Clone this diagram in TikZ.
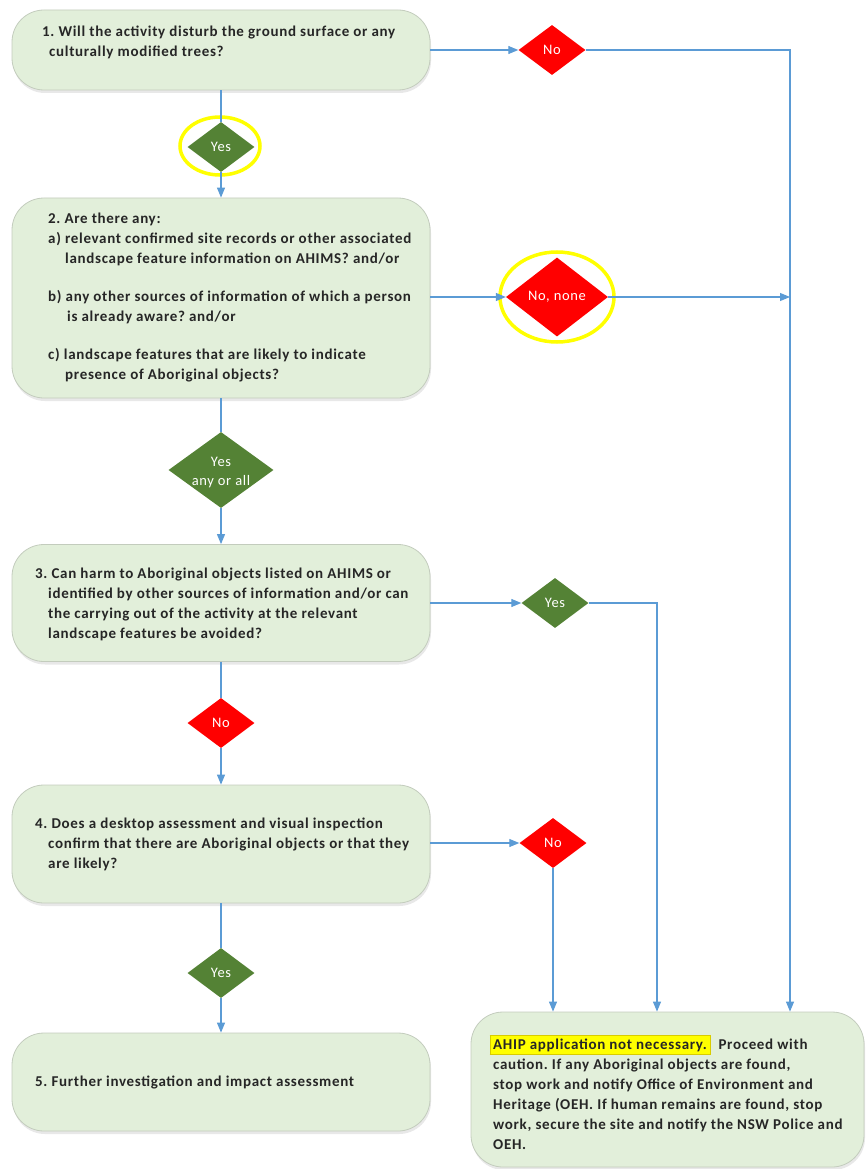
\documentclass[tikz,border=0pt]{standalone}
\usepackage{fontspec}
\setmainfont{Carlito}
\newfontfamily\boxfont[LetterSpace=4.6]{Carlito}
\usetikzlibrary{arrows.meta,positioning,shapes.geometric,shadows}
\usepackage{xcolor}
\definecolor{Sage}{HTML}{E2EFDA}
\definecolor{SageLine}{HTML}{C3CCBD}
\definecolor{Signal}{HTML}{FF0000}
\definecolor{Leaf}{HTML}{548235}
\definecolor{Flow}{HTML}{5B9BD5}
\definecolor{Marker}{HTML}{FFFF00}
\definecolor{MarkerLine}{HTML}{D9CC00}
\newcommand{\hlbox}[1]{{\setlength{\fboxsep}{3pt}\setlength{\fboxrule}{0.6pt}\fcolorbox{MarkerLine}{Marker}{#1}}}
% two-line label that does not widen its diamond
\newcommand{\flatpair}[2]{\makebox[0pt]{\smash{\raisebox{-6pt}{\begin{tabular}{@{}c@{}}#1\\#2\end{tabular}}}}}
\frenchspacing
\tikzset{
  qbox/.style={draw=SageLine,fill=Sage,line width=0.8pt,rounded corners=32pt,
    drop shadow={opacity=0.18,shadow xshift=1pt,shadow yshift=-3pt}},
  qtext/.style={anchor=west,align=left,inner sep=0pt,
    font=\boxfont\bfseries\fontsize{15}{20}\selectfont,text=black!85},
  nodiam/.style={diamond,fill=Signal,text=white,inner sep=0pt,align=center,
    minimum width=67pt,minimum height=50pt,font=\boxfont\fontsize{14.5}{19}\selectfont},
  yesdiam/.style={nodiam,fill=Leaf},
  ring/.style={ellipse,draw=Marker,line width=3.5pt,inner sep=0pt},
  link/.style={draw=Flow,line width=1.1pt},
  flow/.style={link,-{Triangle[length=10pt,width=8pt]}},
}
\begin{document}
\begin{tikzpicture}[x=1pt,y=-1pt]
    \useasboundingbox (0,0) rectangle (865,1169);
    % question boxes
    \node[qbox,minimum width=418pt,minimum height=80pt]  (q1) at (221,50) {};
    \node[qbox,minimum width=418pt,minimum height=200pt] (q2) at (221,298) {};
    \node[qbox,minimum width=418pt,minimum height=117pt] (q3) at (221,603) {};
    \node[qbox,minimum width=418pt,minimum height=118pt] (q4) at (221,844) {};
    \node[qbox,minimum width=418pt,minimum height=98pt]  (q5) at (221,1082) {};
    \node[qbox,minimum width=393pt,minimum height=155pt] (done) at (667.5,1089.5) {};
    % box texts
    \node[qtext] (q1t) at (42,42) {1. Will the activity disturb the ground surface or any\\
      \hspace*{7pt}culturally modified trees?};
    \node[qtext] (q2t) at (48,298) {2. Are there any:\\
      a) relevant confirmed site records or other associated\\
      \hspace*{17pt}landscape feature information on AHIMS? and/or\\[18pt]
      b) any other sources of information of which a person\\
      \hspace*{19pt}is already aware? and/or\\[18pt]
      c) landscape features that are likely to indicate\\
      \hspace*{17pt}presence of Aboriginal objects?};
    \node[qtext] (q3t) at (35,604) {3. Can harm to Aboriginal objects listed on AHIMS or\\
      \hspace*{13pt}identified by other sources of information and/or can\\
      \hspace*{13pt}the carrying out of the activity at the relevant\\
      \hspace*{13pt}landscape\ features be avoided?};
    \node[qtext] (q4t) at (35,844) {4. Does a desktop assessment and visual inspection\\
      \hspace*{13pt}confirm that there are Aboriginal objects or that they\\
      \hspace*{13pt}are likely?};
    \node[qtext] (q5t) at (35,1082) {5. Further investigation and impact assessment};
    \node[qtext] (donet) at (493,1092) {\hspace*{-3.6pt}\hlbox{AHIP application not necessary.}\ \ Proceed with\\
      caution. If any Aboriginal objects are found,\\
      stop work and notify Office of Environment and\\
      Heritage (OEH. If human remains are found, stop\\
      work, secure the site and notify the NSW Police and\\
      OEH.};
    % answers
    \node[nodiam]  (no1) at (552,50) {No};
    \node[yesdiam] (yes1) at (221,147) {Yes};
    \node[nodiam,minimum width=102pt,minimum height=79pt] (none2) at (557,297) {No, none};
    \node[yesdiam,minimum width=105pt,minimum height=76pt] (yes2) at (221,470) {\flatpair{Yes}{any or all}};
    \node[yesdiam] (yes3) at (555,603) {Yes};
    \node[nodiam]  (no3) at (221,723) {No};
    \node[nodiam]  (no4) at (553,843) {No};
    \node[yesdiam] (yes4) at (221,973) {Yes};
    % yellow rings
    \node[ring,minimum width=80pt,minimum height=58pt] (ring1) at (220,146) {};
    \node[ring,minimum width=114pt,minimum height=90pt] (ring2) at (557,297) {};
    % rails
    \coordinate (railB) at (657,0);
    \coordinate (railC) at (790,0);
    % connectors
    \draw[flow] (q1.east) -- (no1.west);
    \draw[flow] (no1.east) -| (done.north -| railC);
    \draw[link] (q1.south) -- (yes1.north);
    \draw[flow] (yes1.south) -- (q2.north);
    \draw[flow] (q2.east |- none2) -- (none2.west);
    \draw[flow] (none2.east) -- (railC |- none2);
    \draw[link] (q2.south) -- (yes2.north);
    \draw[flow] (yes2.south) -- (q3.north);
    \draw[flow] (q3.east) -- (yes3.west);
    \draw[flow] (yes3.east) -| (done.north -| railB);
    \draw[link] (q3.south) -- (no3.north);
    \draw[flow] (no3.south) -- (q4.north);
    \draw[flow] (q4.east |- no4) -- (no4.west);
    \draw[flow] (no4.south) -- (done.north -| no4);
    \draw[link] (q4.south) -- (yes4.north);
    \draw[flow] (yes4.south) -- (q5.north);
\end{tikzpicture}
\end{document}
